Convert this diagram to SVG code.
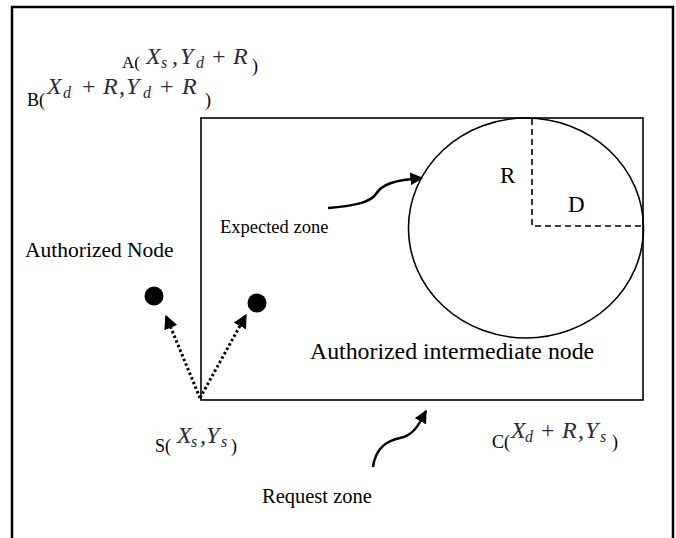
<svg xmlns="http://www.w3.org/2000/svg" width="676" height="538" viewBox="0 0 676 538">
<style>
.t{font-family:"Liberation Serif","Times New Roman",serif;fill:#000}
.m{font-family:"Liberation Serif","Times New Roman",serif;font-style:italic;fill:#2a2a3a;font-size:24px}
.sb{font-size:16px}
.ln{fill:none;stroke:#000}
</style>
<defs>
<marker id="ah" viewBox="0 0 10 10" refX="9" refY="5" markerWidth="13" markerHeight="13" markerUnits="userSpaceOnUse" orient="auto"><path d="M0,0 L10,5 L0,10 z" fill="#000"/></marker>
<marker id="ah2" viewBox="0 0 10 10" refX="9" refY="5" markerWidth="14" markerHeight="14" markerUnits="userSpaceOnUse" orient="auto"><path d="M0,0 L10,5 L0,10 z" fill="#000"/></marker>
</defs>
<path class="ln" d="M12,540 V7 H673 V540" stroke-width="2.5"/>
<g id="request-zone">
<rect x="201" y="118" width="442" height="282" class="ln" stroke-width="1.6"/>
</g>
<g id="expected-zone">
<ellipse cx="526" cy="228" rx="117.5" ry="110" class="ln" stroke-width="1.6"/>
<path class="ln" d="M532,119 V226 H643" stroke-width="1.6" stroke-dasharray="6,4"/>
<text class="t" x="500" y="183" font-size="23">R</text>
<text class="t" x="568" y="212" font-size="23">D</text>
</g>
<g id="node1"><circle cx="154" cy="296" r="9.5" fill="#000"/></g>
<g id="node2"><circle cx="257" cy="303" r="9.5" fill="#000"/></g>
<g id="connectors">
<path class="ln" d="M200,398 L166,316" stroke-width="3" stroke-dasharray="2.5,2.5" marker-end="url(#ah2)"/>
<path class="ln" d="M200,398 L246,315" stroke-width="3" stroke-dasharray="2.5,2.5" marker-end="url(#ah2)"/>
<path class="ln" d="M328,208 C352,206 370,203 376,194 C382,184 395,180 422,178" stroke-width="2.5" marker-end="url(#ah)"/>
<path class="ln" d="M373,467 C376,445 390,440 400,438 C415,435 420,422 426,411" stroke-width="2.5" marker-end="url(#ah)"/>
</g>
<g id="labels">
<text class="t" x="220" y="233" font-size="18.5">Expected zone</text>
<text class="t" x="25" y="257" font-size="21.5">Authorized Node</text>
<text class="t" x="310" y="359" font-size="23.8">Authorized intermediate node</text>
<text class="t" x="262" y="503" font-size="20.5">Request zone</text>
</g>
<g id="label-A">
<text class="t" x="122" y="68" font-size="17">A(</text>
<text class="m" y="64"><tspan x="146">X</tspan><tspan x="161" dy="4" class="sb">s</tspan><tspan x="172" dy="-4">,</tspan><tspan x="180">Y</tspan><tspan x="196" dy="4" class="sb">d</tspan><tspan x="212" dy="-4" font-style="normal">+</tspan><tspan x="233">R</tspan></text>
<text class="t" x="252" y="72" font-size="18">)</text>
</g>
<g id="label-B">
<text class="t" x="27" y="106" font-size="18">B(</text>
<text class="m" y="94"><tspan x="47">X</tspan><tspan x="63" dy="4" class="sb">d</tspan><tspan x="82" dy="-4" font-style="normal">+</tspan><tspan x="103">R</tspan><tspan x="119">,</tspan><tspan x="126">Y</tspan><tspan x="143" dy="4" class="sb">d</tspan><tspan x="160" dy="-4" font-style="normal">+</tspan><tspan x="182">R</tspan></text>
<text class="t" x="205" y="106" font-size="18">)</text>
</g>
<g id="label-S">
<text class="t" x="155" y="452" font-size="18">S(</text>
<text class="m" y="443"><tspan x="177">X</tspan><tspan x="191" dy="4" class="sb">s</tspan><tspan x="200" dy="-4">,</tspan><tspan x="206">Y</tspan><tspan x="221" dy="4" class="sb">s</tspan></text>
<text class="t" x="231" y="452" font-size="18">)</text>
</g>
<g id="label-C">
<text class="t" x="492" y="448" font-size="18">C(</text>
<text class="m" y="438"><tspan x="511">X</tspan><tspan x="525" dy="4" class="sb">d</tspan><tspan x="541" dy="-4" font-style="normal">+</tspan><tspan x="562">R</tspan><tspan x="578">,</tspan><tspan x="585">Y</tspan><tspan x="600" dy="4" class="sb">s</tspan></text>
<text class="t" x="612" y="448" font-size="18">)</text>
</g>
</svg>
